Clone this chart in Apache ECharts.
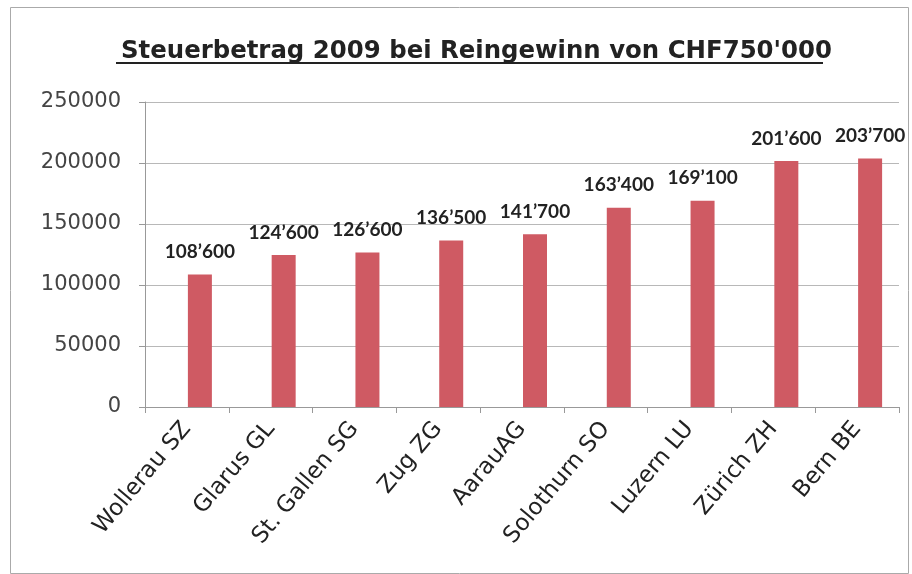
<!DOCTYPE html>
<html>
<head>
<meta charset="utf-8">
<script src="https://cdn.jsdelivr.net/npm/echarts@6/dist/echarts.min.js"></script>
<style>
html,body{margin:0;padding:0;background:#fff;}
#chart{width:912px;height:574px;}
</style>
</head>
<body>
<div id="chart"></div>
<script>
var titleText = "Steuerbetrag 2009 bei Reingewinn von CHF750'000";
var categories = ["Wollerau SZ", "Glarus GL", "St. Gallen SG", "Zug ZG", "AarauAG", "Solothurn SO", "Luzern LU", "Zürich ZH", "Bern BE"];
var taxValues = [108600, 124600, 126600, 136500, 141700, 163400, 169100, 201600, 203700];
var yTicks = [0, 50000, 100000, 150000, 200000, 250000];

function fmt(v) {
  var s = String(v);
  return s.replace(/\B(?=(\d{3})+(?!\d))/g, "\u2019");
}

var chart = echarts.init(document.getElementById('chart'));
chart.setOption({
  backgroundColor: '#ffffff',
  animation: false,
  title: {
    text: titleText,
    left: 116,
    top: 35,
    textStyle: { fontFamily: 'DejaVu Sans', fontWeight: 'bold', fontSize: 24.4, color: '#222' }
  },
  graphic: [
    { type: 'rect', left: 116, top: 62, shape: { width: 707, height: 2 }, style: { fill: '#222' } },
    { type: 'rect', left: 8, top: 5, shape: { width: 898, height: 566 }, style: { fill: 'none', stroke: '#aaa', lineWidth: 1 } }
  ],
  grid: { left: 145, right: 13, top: 102, bottom: 167 },
  xAxis: {
    type: 'category',
    data: categories,
    axisLine: { lineStyle: { color: '#999', width: 1 } },
    axisTick: { show: true, length: 6, lineStyle: { color: '#999' } },
    axisLabel: { rotate: 50, fontFamily: 'DejaVu Sans', fontSize: 23, color: '#222', margin: 18, interval: 0 }
  },
  yAxis: {
    type: 'value',
    min: yTicks[0],
    max: yTicks[yTicks.length - 1],
    interval: 50000,
    axisLine: { show: true, lineStyle: { color: '#999', width: 1 } },
    axisTick: { show: true, length: 6, lineStyle: { color: '#999' } },
    axisLabel: { fontFamily: 'DejaVu Sans', fontSize: 21, color: '#444', margin: 24, formatter: function (v) { return String(v); } },
    splitLine: { lineStyle: { color: '#b8b8b8', width: 1 } }
  },
  series: [
    {
      type: 'bar',
      barWidth: 26,
      barGap: '0%',
      data: categories.map(function () { return '-'; }),
      itemStyle: { color: 'rgba(0,0,0,0)' },
      silent: true
    },
    {
      type: 'bar',
      barWidth: 24,
      barGap: '0%',
      data: taxValues,
      itemStyle: { color: '#CF5A63' },
      label: {
        show: true,
        position: 'top',
        distance: 13,
        fontFamily: 'Lato',
        fontWeight: 'bold',
        fontSize: 19,
        color: '#222',
        formatter: function (p) { return fmt(p.value); }
      }
    }
  ]
});
</script>
</body>
</html>
